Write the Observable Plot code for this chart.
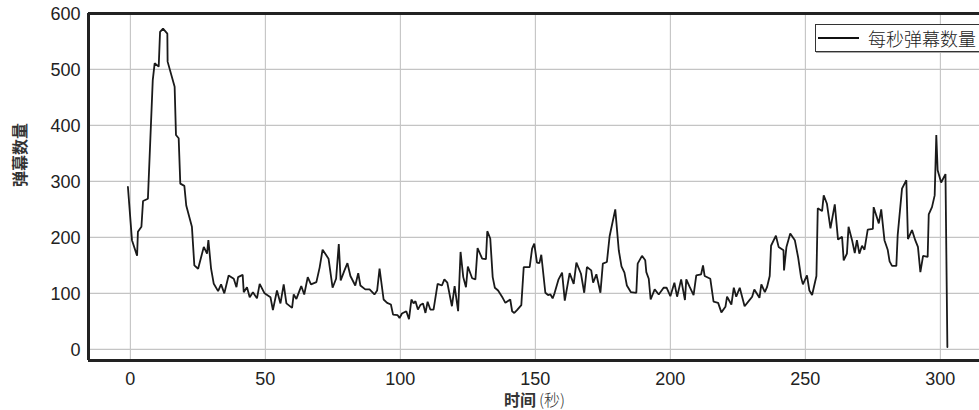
<!DOCTYPE html>
<html>
<head>
<meta charset="utf-8">
<script src="https://cdn.jsdelivr.net/npm/d3@7"></script>
<script src="https://cdn.jsdelivr.net/npm/@observablehq/plot@0.6"></script>
<style>
  html, body { margin: 0; padding: 0; background: #fff; }
  #wrap { position: relative; width: 979px; height: 410px; overflow: hidden; background: #fff; }
  #legend { position: absolute; left: 815px; top: 24px; width: 190px; height: 26px;
            border: 1px solid #333; background: #fff; box-shadow: 1px 1px 0 #aaa; }
  #legend .sw { position: absolute; left: 2px; top: 12px; width: 41px; border-top: 2px solid #111; }
  #legend .tx { position: absolute; left: 52px; top: 0px; font: 18px/26px "Noto Sans CJK SC", sans-serif; color: #222; font-weight: 300; }
</style>
</head>
<body>
<div id="wrap"></div>
<script>
// time (seconds) of each vertex
const times = [
  -0.9, 0.6, 2.5, 2.8, 4.1, 4.7, 6.5, 8.3, 9.0, 10.5, 11.0, 12.1, 13.7, 13.8, 16.4, 16.9, 17.9, 18.5, 20.0, 20.7,
  22.8, 23.7, 25.1, 27.2, 28.4, 28.9, 29.9, 30.9, 32.5, 33.6, 34.8, 36.4, 38.3, 39.3, 39.9, 41.6, 42.0, 43.2, 44.2, 45.4,
  46.9, 47.9, 49.7, 51.9, 52.8, 54.3, 55.6, 56.8, 57.8, 59.9, 60.5, 61.5, 63.3, 64.4, 65.7, 66.9, 68.9, 70.1, 71.2, 73.4,
  74.9, 76.2, 77.2, 77.9, 79.3, 80.4, 81.5, 83.3, 84.4, 85.2, 87.0, 88.6, 90.4, 91.4, 92.3, 93.8, 95.1, 96.5, 97.3, 99.0,
  99.7, 100.6, 102.2, 103.2, 104.1, 104.9, 105.6, 106.5, 107.4, 108.4, 109.3, 110.1, 111.1, 112.3, 113.8, 115.4, 116.3, 117.4, 119.1, 120.1,
  121.4, 122.3, 123.3, 124.3, 125.0, 126.6, 127.8, 128.6, 130.3, 131.7, 132.2, 133.3, 134.2, 135.0, 136.2, 137.9, 138.9, 140.7, 141.4, 142.2,
  143.2, 144.8, 145.7, 147.9, 148.8, 149.6, 150.6, 151.5, 152.2, 153.7, 154.7, 155.6, 156.4, 157.1, 158.6, 159.9, 160.9, 162.7, 164.2, 165.2,
  166.9, 168.1, 169.1, 170.7, 171.4, 172.6, 174.1, 175.0, 176.5, 177.5, 179.6, 180.9, 181.9, 183.0, 183.9, 185.4, 187.4, 187.9, 189.5, 190.7,
  191.1, 192.0, 192.7, 194.2, 195.7, 197.5, 198.6, 200.0, 201.5, 202.5, 204.0, 205.4, 205.9, 207.2, 208.6, 209.6, 211.4, 212.1, 212.7, 214.8,
  216.0, 217.7, 218.9, 220.4, 221.0, 222.6, 223.5, 224.4, 225.7, 227.5, 229.0, 230.3, 231.1, 233.0, 233.7, 235.0, 235.8, 236.8, 237.3, 239.1,
  240.1, 241.9, 242.1, 243.0, 244.4, 246.1, 247.3, 248.4, 249.1, 250.6, 251.5, 252.5, 254.1, 254.6, 256.2, 256.8, 258.0, 259.3, 260.9, 262.1,
  263.6, 264.2, 265.4, 266.0, 267.3, 268.3, 269.1, 270.0, 271.0, 271.9, 273.1, 275.0, 275.3, 277.2, 278.1, 279.3, 280.5, 281.2, 282.1, 283.7,
  284.2, 285.8, 287.4, 288.0, 289.5, 290.7, 291.7, 292.6, 293.6, 295.3, 295.7, 296.9, 297.9, 298.5, 299.0, 300.3, 301.9, 302.6
];
// danmaku count per second at each vertex
const counts = [
  290, 195, 167, 210, 219, 265, 269, 481, 511, 505, 567, 573, 564, 514, 469, 383, 377, 296, 292, 257,
  219, 150, 144, 183, 171, 195, 144, 117, 104, 116, 100, 132, 126, 111, 129, 133, 102, 111, 93, 102,
  91, 117, 100, 93, 70, 105, 82, 116, 82, 74, 98, 90, 113, 98, 129, 116, 120, 146, 178, 162,
  110, 126, 188, 123, 141, 154, 131, 114, 136, 114, 107, 107, 98, 105, 144, 89, 83, 80, 62, 61,
  56, 64, 68, 54, 89, 82, 86, 71, 79, 82, 65, 85, 71, 71, 117, 114, 125, 119, 77, 113,
  68, 174, 129, 111, 148, 127, 125, 181, 162, 161, 211, 198, 129, 110, 105, 92, 83, 89, 68, 65,
  70, 79, 147, 147, 180, 189, 155, 154, 169, 101, 97, 98, 91, 100, 125, 137, 87, 136, 117, 155,
  135, 101, 147, 141, 119, 134, 101, 153, 156, 202, 250, 177, 148, 137, 114, 102, 101, 153, 167, 159,
  138, 126, 89, 107, 98, 110, 110, 95, 119, 94, 125, 88, 125, 111, 97, 132, 134, 150, 131, 126,
  85, 83, 66, 76, 94, 80, 110, 94, 110, 77, 86, 94, 107, 92, 116, 102, 111, 131, 185, 203,
  183, 177, 141, 183, 207, 195, 165, 129, 116, 132, 105, 97, 131, 252, 247, 275, 260, 216, 259, 196,
  201, 159, 171, 219, 195, 172, 195, 171, 185, 178, 214, 215, 254, 225, 250, 195, 178, 157, 149, 149,
  204, 287, 302, 197, 213, 195, 183, 138, 167, 165, 241, 254, 275, 383, 320, 298, 313, 4
];
const xTicks = [0, 50, 100, 150, 200, 250, 300];
const yTicks = [0, 100, 200, 300, 400, 500, 600];
const xDomain = [-15.5, 314.5];
const yDomain = [-20, 600];
const xLabelMain = "时间";
const xLabelUnit = "(秒)";
const yLabel = "弹幕数量";
const legendLabel = "每秒弹幕数量";

const data = times.map((t, i) => ({t, c: counts[i]}));
const tickFont = "Liberation Sans, Arial, sans-serif";

const chart = Plot.plot({
  width: 979,
  height: 410,
  marginLeft: 88,
  marginRight: 0,
  marginTop: 13,
  marginBottom: 50,
  style: {background: "#fff", color: "#222", fontFamily: tickFont, fontSize: "18px", overflow: "visible"},
  x: {domain: xDomain},
  y: {domain: yDomain},
  marks: [
    Plot.gridX(xTicks, {stroke: "#bdbdbd", strokeOpacity: 1, strokeWidth: 1}),
    Plot.gridY(yTicks, {stroke: "#c4c4c4", strokeOpacity: 1, strokeWidth: 1.3}),
    Plot.axisX(xTicks, {tickSize: 0, tickPadding: 12, label: null, fill: "#222", fontSize: 18}),
    Plot.axisY(yTicks, {tickSize: 0, tickPadding: 8, label: null, fill: "#222", fontSize: 18, dy: 1}),
    Plot.line(data, {x: "t", y: "c", stroke: "#1a1a1a", strokeWidth: 1.8, strokeLinejoin: "miter"}),
    Plot.ruleX([xDomain[0]], {stroke: "#222", strokeWidth: 3}),
    Plot.ruleY([yDomain[0], yDomain[1]], {stroke: "#222", strokeWidth: 3}),
    Plot.text([yLabel], {text: d => d, frameAnchor: "left", dx: -68, rotate: -90,
      fontFamily: "Noto Sans CJK SC", fontSize: 16, fontWeight: "bold", fill: "#333"}),
    Plot.text([xLabelMain], {text: d => d, frameAnchor: "bottom", dy: 45, dx: 2, textAnchor: "end",
      fontFamily: "Noto Sans CJK SC", fontSize: 16, fontWeight: "bold", fill: "#333"}),
    Plot.text([xLabelUnit], {text: d => d, frameAnchor: "bottom", dy: 45, dx: 5, textAnchor: "start",
      fontFamily: "Noto Sans CJK SC", fontSize: 16, fontWeight: 300, fill: "#333"})
  ]
});

const wrap = document.getElementById("wrap");
wrap.appendChild(chart);

const leg = document.createElement("div");
leg.id = "legend";
const sw = document.createElement("span"); sw.className = "sw";
const tx = document.createElement("span"); tx.className = "tx"; tx.textContent = legendLabel;
leg.appendChild(sw); leg.appendChild(tx);
wrap.appendChild(leg);
</script>
</body>
</html>
